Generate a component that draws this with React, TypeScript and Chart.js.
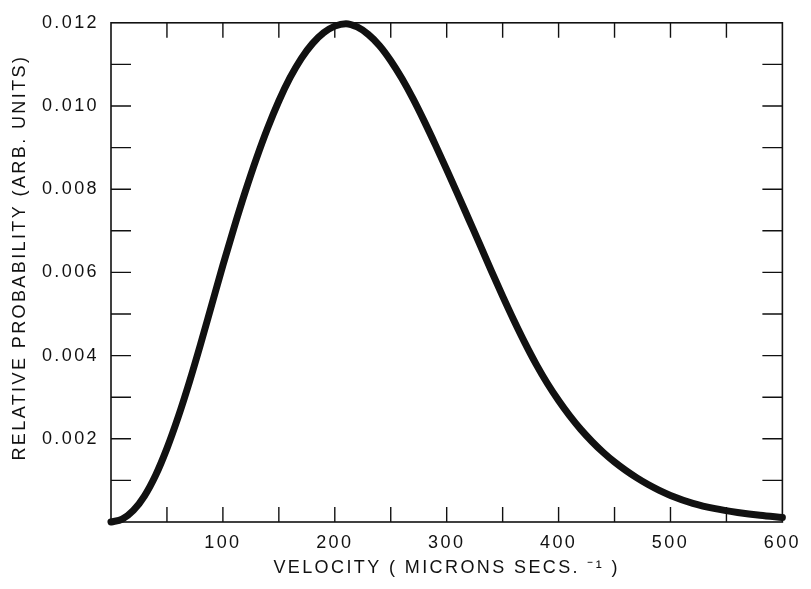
import React, { useEffect, useRef } from "react";
import { Chart, registerables } from "chart.js";

Chart.register(...registerables);

// Velocity distribution (microns / s) and relative probability
const velocity = [
  0, 10, 20, 30, 40, 50, 60, 70, 80, 90, 100, 110, 120, 130, 140, 150, 160, 170,
  180, 190, 200, 210, 220, 230, 240, 250, 260, 270, 280, 290, 300, 310, 320,
  330, 340, 350, 360, 370, 380, 390, 400, 410, 420, 430, 440, 450, 460, 470,
  480, 490, 500, 520, 540, 560, 580, 600,
];
const probability = [
  0, 0.00007, 0.00028, 0.00063, 0.00113, 0.00177, 0.00252, 0.00336, 0.00427,
  0.00522, 0.00617, 0.00708, 0.00794, 0.00874, 0.00947, 0.01012, 0.01068,
  0.01114, 0.0115, 0.01176, 0.01192, 0.01198, 0.0119, 0.01172, 0.01145, 0.01109,
  0.01066, 0.01017, 0.00963, 0.00906, 0.00847, 0.00787, 0.00726, 0.00665,
  0.00603, 0.00543, 0.00485, 0.0043, 0.00379, 0.00333, 0.00292, 0.00255,
  0.00222, 0.00193, 0.00167, 0.00144, 0.00124, 0.00106, 0.0009, 0.00076,
  0.00064, 0.00045, 0.00032, 0.00023, 0.00016, 0.00011,
];

// Tick marks (drawn inward on all four sides) and labelled values
const xTickMarks = [50, 100, 150, 200, 250, 300, 350, 400, 450, 500, 550];
const yTickMarks = [
  0.001, 0.002, 0.003, 0.004, 0.005, 0.006, 0.007, 0.008, 0.009, 0.01, 0.011,
];
const xTickLabels = [100, 200, 300, 400, 500, 600];
const yTickLabels = [0.002, 0.004, 0.006, 0.008, 0.01, 0.012];

const FONT = "'Liberation Sans', Arial, Helvetica, sans-serif";
const INK = "#111111";
const SPACING = "2.4px";

const spacingPlugin = {
  id: "letterSpacing",
  beforeLayout(chart: any) {
    chart.ctx.letterSpacing = SPACING;
  },
  beforeDraw(chart: any) {
    chart.ctx.letterSpacing = SPACING;
  },
};

const framePlugin = {
  id: "frame",
  beforeDatasetsDraw(chart: any) {
    const { ctx, chartArea: a, scales } = chart;
    const xs = scales.x;
    const ys = scales.y;
    ctx.save();
    ctx.strokeStyle = INK;
    ctx.lineWidth = 1.6;
    ctx.strokeRect(a.left, a.top, a.right - a.left, a.bottom - a.top);
    ctx.lineWidth = 1.4;
    ctx.beginPath();
    for (const v of xTickMarks) {
      const px = xs.getPixelForValue(v);
      ctx.moveTo(px, a.bottom);
      ctx.lineTo(px, a.bottom - 15);
      ctx.moveTo(px, a.top);
      ctx.lineTo(px, a.top + 15);
    }
    for (const v of yTickMarks) {
      const py = ys.getPixelForValue(v);
      ctx.moveTo(a.left, py);
      ctx.lineTo(a.left + 20, py);
      ctx.moveTo(a.right, py);
      ctx.lineTo(a.right - 20, py);
    }
    ctx.stroke();
    ctx.restore();
  },
};

export default function App() {
  const canvasRef = useRef<HTMLCanvasElement | null>(null);

  useEffect(() => {
    if (!canvasRef.current) return;
    const points = velocity.map((v, i) => ({ x: v, y: probability[i] }));
    const chart = new Chart(canvasRef.current, {
      type: "line",
      data: {
        datasets: [
          {
            data: points,
            borderColor: INK,
            borderWidth: 7,
            borderCapStyle: "round",
            borderJoinStyle: "round",
            pointRadius: 0,
            cubicInterpolationMode: "monotone",
            fill: false,
            clip: false,
          } as any,
        ],
      },
      options: {
        animation: false,
        responsive: true,
        maintainAspectRatio: false,
        layout: { padding: { left: 0, right: 21, top: 14, bottom: 0 } },
        plugins: {
          legend: { display: false },
          tooltip: { enabled: false },
        },
        scales: {
          x: {
            type: "linear",
            min: 0,
            max: 600,
            grid: { display: false, drawTicks: false },
            border: { display: false },
            afterFit(scale: any) {
              scale.height = 67;
            },
            ticks: {
              stepSize: 100,
              autoSkip: false,
              maxRotation: 0,
              padding: 10,
              color: INK,
              font: { family: FONT, size: 18 },
              callback: (v: any) =>
                xTickLabels.includes(Number(v)) ? String(v) : "",
            },
            title: {
              display: true,
              text: "VELOCITY ( MICRONS SECS. \u207B\u00B9 )",
              color: INK,
              font: { family: FONT, size: 18 },
              padding: { top: 0, bottom: 10 },
            },
          },
          y: {
            type: "linear",
            min: 0,
            max: 0.012,
            grid: { display: false, drawTicks: false },
            border: { display: false },
            afterFit(scale: any) {
              scale.width = 111;
            },
            ticks: {
              stepSize: 0.002,
              autoSkip: false,
              padding: 12,
              color: INK,
              font: { family: FONT, size: 18 },
              callback: (v: any) => {
                const n = Number(v);
                const hit = yTickLabels.some((t) => Math.abs(t - n) < 1e-9);
                return hit ? n.toFixed(3) : "";
              },
            },
            title: {
              display: true,
              text: "    RELATIVE PROBABILITY (ARB. UNITS)",
              color: INK,
              font: { family: FONT, size: 18 },
              padding: { top: 9, bottom: 0 },
            },
          },
        },
      },
      plugins: [spacingPlugin, framePlugin],
    });
    return () => chart.destroy();
  }, []);

  return (
    <div
      style={{
        position: "fixed",
        left: 0,
        top: 0,
        width: 811,
        height: 589,
        background: "#ffffff",
      }}
    >
      <canvas ref={canvasRef} />
    </div>
  );
}
